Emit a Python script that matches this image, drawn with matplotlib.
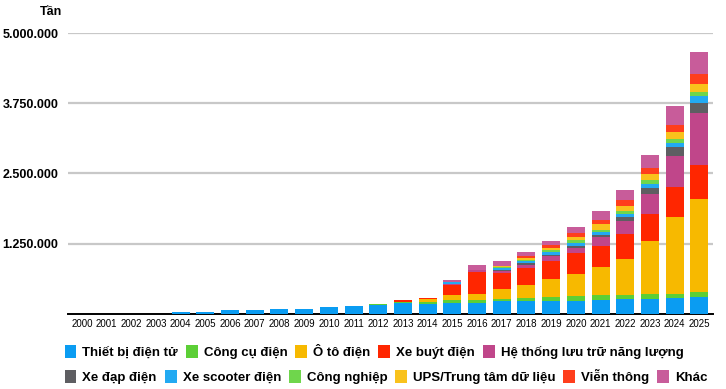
import numpy as np
import matplotlib
matplotlib.use("Agg")
import matplotlib.pyplot as plt
from matplotlib.patches import Patch
from matplotlib.ticker import FuncFormatter

plt.rcParams['font.family'] = ['Liberation Sans', 'DejaVu Sans']

years = [str(y) for y in range(2000, 2026)]

# don vi: tan, doc tu hinh
thiet_bi_dien_tu = [0, 0, 0, 0, 32000, 34000, 65000, 66000, 80000, 85000, 115000, 135000, 150000,
                    190000, 178000, 196000, 196000, 232000, 220000, 220000, 226000, 250000, 255000,
                    260000, 280000, 290000]
cong_cu_dien = [0, 0, 0, 0, 0, 0, 0, 0, 0, 0, 0, 0, 12000,
                12000, 24000, 53000, 53000, 30000, 65000, 71000, 83000, 89000, 83000,
                95000, 77000, 95000]
o_to_dien = [0, 0, 0, 0, 0, 0, 0, 0, 0, 0, 0, 0, 0,
             0, 53000, 89000, 101000, 178000, 232000, 333000, 404000, 487000, 641000,
             943000, 1360000, 1660000]
xe_buyt_dien = [0, 0, 0, 0, 0, 0, 0, 0, 0, 0, 0, 0, 0,
                40000, 18000, 178000, 386000, 285000, 303000, 321000, 368000, 386000, 445000,
                487000, 534000, 605000]
luu_tru_nang_luong = [0, 0, 0, 0, 0, 0, 0, 0, 0, 0, 0, 0, 0,
                      0, 0, 10000, 36000, 36000, 53000, 77000, 89000, 155000, 231000,
                      356000, 570000, 930000]
xe_dap_dien = [0, 0, 0, 0, 0, 0, 0, 0, 0, 0, 0, 0, 0,
               0, 0, 0, 0, 8000, 24000, 24000, 30000, 42000, 71000,
               101000, 148000, 185000]
xe_scooter_dien = [0, 0, 0, 0, 0, 0, 0, 0, 0, 0, 0, 0, 0,
                   0, 0, 36000, 8000, 36000, 36000, 53000, 59000, 47000, 53000,
                   71000, 77000, 113000]
cong_nghiep = [0, 0, 0, 0, 0, 0, 0, 0, 0, 0, 0, 0, 0,
               0, 0, 0, 0, 30000, 30000, 36000, 47000, 42000, 47000,
               71000, 71000, 71000]
ups_trung_tam = [0, 0, 0, 0, 0, 0, 0, 0, 0, 0, 0, 0, 0,
                 0, 0, 0, 0, 10000, 24000, 36000, 53000, 107000, 95000,
                 107000, 125000, 155000]
vien_thong = [0, 0, 0, 0, 0, 0, 0, 0, 0, 0, 0, 0, 0,
              0, 0, 0, 0, 10000, 47000, 47000, 77000, 71000, 101000,
              107000, 130000, 166000]
khac = [0, 0, 0, 0, 0, 0, 0, 0, 0, 0, 0, 0, 0,
        0, 0, 42000, 89000, 83000, 71000, 83000, 113000, 148000, 184000,
        231000, 333000, 392000]

series = [
    ("Thiết bị điện tử", thiet_bi_dien_tu, "#0a9cf2"),
    ("Công cụ điện", cong_cu_dien, "#5ccf36"),
    ("Ô tô điện", o_to_dien, "#f7b900"),
    ("Xe buýt điện", xe_buyt_dien, "#ff2600"),
    ("Hệ thống lưu trữ năng lượng", luu_tru_nang_luong, "#c0468a"),
    ("Xe đạp điện", xe_dap_dien, "#5e5e62"),
    ("Xe scooter điện", xe_scooter_dien, "#22aaf2"),
    ("Công nghiệp", cong_nghiep, "#6fd64c"),
    ("UPS/Trung tâm dữ liệu", ups_trung_tam, "#f9c21c"),
    ("Viễn thông", vien_thong, "#ff3e1c"),
    ("Khác", khac, "#c85c9a"),
]

fig = plt.figure(figsize=(7.26, 3.89), dpi=100)
ax = fig.add_axes([0.094, 0.194, 0.888, 0.720])

x = np.arange(len(years))
bottom = np.zeros(len(years))
for name, vals, col in series:
    v = np.array(vals, dtype=float)
    ax.bar(x, v, 0.73, bottom=bottom, color=col, linewidth=0, zorder=3)
    bottom += v

ax.set_xlim(-0.55, len(years) - 0.45)
ax.set_ylim(0, 5000000)
ax.set_yticks([1250000, 2500000, 3750000, 5000000])
ax.yaxis.set_major_formatter(FuncFormatter(lambda v, p: f"{int(v):,}".replace(",", ".")))
ax.grid(axis="y", color="#c8c8c8", linewidth=1.6, zorder=0)
ax.set_xticks(x)
ax.set_xticklabels(years, fontsize=7)
ax.tick_params(axis="y", length=0, pad=7, labelsize=9)
ax.tick_params(axis="x", length=0, pad=4)
for lab in ax.get_yticklabels():
    lab.set_fontweight("bold")
for s in ["top", "right", "left"]:
    ax.spines[s].set_visible(False)
ax.spines["bottom"].set_color("black")
ax.spines["bottom"].set_linewidth(1.4)

fig.text(0.085, 0.968, "Tần", fontsize=9, fontweight="bold", ha="right", va="center")

handles = [Patch(facecolor=c, edgecolor="none", label=n) for n, _, c in series]
leg_kw = dict(frameon=False, loc="center left", borderpad=0, borderaxespad=0,
              handlelength=0.9, handleheight=1.1, handletextpad=0.45, columnspacing=0.6,
              prop={"size": 9.5, "weight": "bold"})
leg1 = fig.legend(handles=handles[:5], ncol=5, bbox_to_anchor=(0.089, 0.095), **leg_kw)
leg2 = fig.legend(handles=handles[5:], ncol=6, bbox_to_anchor=(0.089, 0.033), **leg_kw)

fig.savefig("out.png", dpi=100)
